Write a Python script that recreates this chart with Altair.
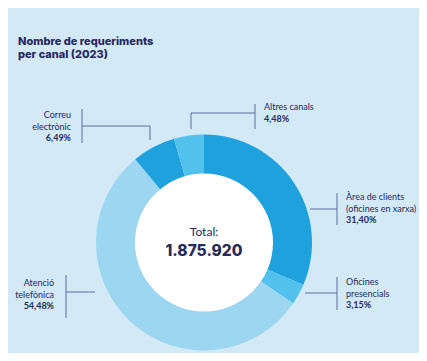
import altair as alt
import pandas as pd

# ---- data ----
canals = ["Àrea de clients", "Oficines presencials", "Atenció telefònica", "Correu electrònic", "Altres canals"]
percents = [31.40, 3.15, 54.48, 6.49, 4.48]
colors = ["#1ea1dd", "#52c1ec", "#9dd6f1", "#1ea1dd", "#52c1ec"]
total_label = "1.875.920"

label_lines = [
    ["Àrea de clients", "(oficines en xarxa)"],
    ["Oficines", "presencials"],
    ["Atenció", "telefònica"],
    ["Correu", "electrònic"],
    ["Altres canals"],
]
pct_labels = ["31,40%", "3,15%", "54,48%", "6,49%", "4,48%"]

df = pd.DataFrame({"canal": canals, "pct": percents, "ord": list(range(len(canals)))})

BG = "#d3e9f6"
NAVY = "#272a5c"
LINE = "#5d6f9f"
FONT = "Lato"
HEAVY = "Inter"

CX, CY = 196, 234.5
R_OUT, R_IN = 108, 69

donut = alt.Chart(df).mark_arc(innerRadius=R_IN - 2, outerRadius=R_OUT, stroke=None).encode(
    theta=alt.Theta("pct:Q", stack=True),
    order=alt.Order("ord:Q"),
    color=alt.Color("canal:N", scale=alt.Scale(domain=canals, range=colors), legend=None),
    x=alt.value(CX), y=alt.value(CY),
)

one = pd.DataFrame({"v": [0]})

hole = alt.Chart(one).mark_point(
    shape="circle", filled=True, color="white", opacity=1, strokeWidth=0,
    size=(2 * R_IN) ** 2,
).encode(x=alt.value(CX), y=alt.value(CY))

layers = [donut, hole]

def txt(t, x, y, size=9, weight="normal", align="left", color=NAVY, font=FONT):
    return alt.Chart(one).mark_text(
        text=t, fontSize=size, fontWeight=weight, align=align, baseline="middle",
        font=font, color=color
    ).encode(x=alt.value(x), y=alt.value(y))

def rule(x1, y1, x2, y2):
    return alt.Chart(one).mark_rule(color=LINE, strokeWidth=1).encode(
        x=alt.value(x1), y=alt.value(y1), x2=alt.value(x2), y2=alt.value(y2)
    )

# title
layers.append(txt("Nombre de requeriments", 10, 34, size=11, weight=800, font=HEAVY))
layers.append(txt("per canal (2023)", 10, 47, size=11, weight=800, font=HEAVY))

# center
layers.append(txt("Total:", CX, 224, size=12, align="center"))
layers.append(txt(total_label, CX, 243, size=15.5, weight=800, align="center", font=HEAVY))

# label layout (chart pixel coords): text x, first line y, align
layout = [
    (338, 189, "left"),
    (338, 274, "left"),
    (46, 275, "right"),
    (63, 107, "right"),
    (256, 99, "left"),
]
for lines, pct, (lx, ly, al) in zip(label_lines, pct_labels, layout):
    for i, ln in enumerate(lines):
        layers.append(txt(ln, lx, ly + i * 11.5, align=al))
    layers.append(txt(pct, lx, ly + len(lines) * 11.5, weight="bold", align=al))

# leader lines
segs = [
    (329, 185, 329, 217), (302, 201, 329, 201),
    (329, 269, 329, 302), (297, 285, 329, 285),
    (58, 267, 58, 310), (58, 284, 87, 284),
    (74, 101, 74, 135), (74, 118, 142, 118), (142, 118, 142, 132),
    (247, 96, 247, 121), (183, 105, 247, 105), (183, 105, 183, 121),
]
for s in segs:
    layers.append(rule(*s))

chart = alt.layer(*layers).properties(
    width=411, height=345, background=BG, padding=0,
    autosize=alt.AutoSizeParams(type="none"),
).configure_view(stroke=None)

chart.save("out.html", embed_options={"renderer": "svg", "actions": False})
